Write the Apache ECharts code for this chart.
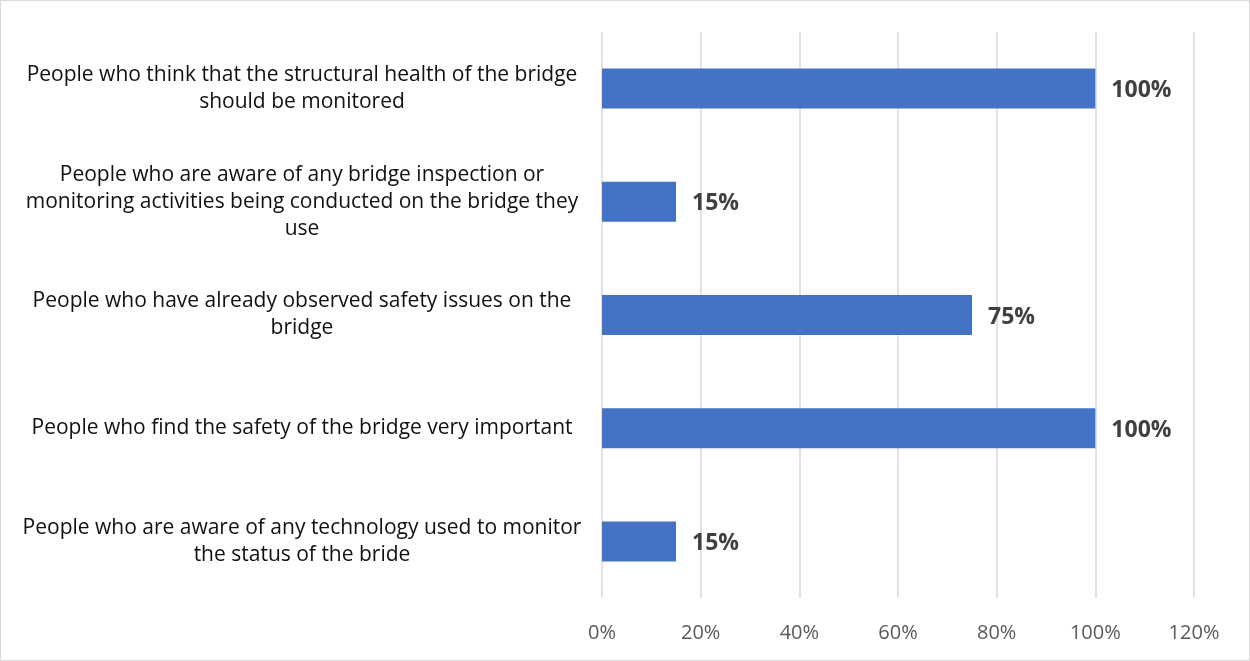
<!DOCTYPE html>
<html>
<head>
<meta charset="utf-8">
<script src="https://cdn.jsdelivr.net/npm/echarts@6/dist/echarts.min.js"></script>
<style>
  html, body { margin: 0; padding: 0; background: #fff; }
  #chart { width: 1250px; height: 661px; box-sizing: border-box; border: 1px solid #d9d9d9; }
</style>
</head>
<body>
<div id="chart"></div>
<script>
// survey answers, top to bottom
var categories = [
    'People who think that the structural health of the bridge\nshould be monitored',
    'People who are aware of any bridge inspection or\nmonitoring activities being conducted on the bridge they\nuse',
    'People who have already observed safety issues on the\nbridge',
    'People who find the safety of the bridge very important',
    'People who are aware of any technology used to monitor\nthe status of the bride'
];
var percentages = [100, 15, 75, 100, 15];
var tickMax = 120;
var tickStep = 20;

var chart = echarts.init(document.getElementById('chart'));

chart.setOption({
    animation: false,
    grid: {
        left: 601,
        right: 55,
        top: 31,
        bottom: 62
    },
    xAxis: {
        type: 'value',
        min: 0,
        max: tickMax,
        interval: tickStep,
        axisLine: { show: false },
        axisTick: { show: false },
        axisLabel: {
            formatter: '{value}%',
            color: '#595959',
            fontFamily: 'Open Sans',
            fontSize: 20,
            margin: 25
        },
        splitLine: {
            lineStyle: { color: '#d9d9d9', width: 1.5 }
        }
    },
    yAxis: {
        type: 'category',
        inverse: true,
        data: categories,
        axisLine: { show: false },
        axisTick: { show: false },
        axisLabel: {
            align: 'center',
            margin: 300,
            color: '#111',
            fontFamily: 'Open Sans',
            fontSize: 21,
            lineHeight: 27
        }
    },
    series: [
        {
            type: 'bar',
            data: percentages,
            barWidth: 40,
            itemStyle: { color: '#4472C4' },
            label: {
                show: true,
                position: 'right',
                distance: 16,
                offset: [0, 2],
                formatter: '{c}%',
                color: '#404040',
                fontFamily: 'Open Sans',
                fontWeight: 'bold',
                fontSize: 23
            }
        }
    ]
});
</script>
</body>
</html>
